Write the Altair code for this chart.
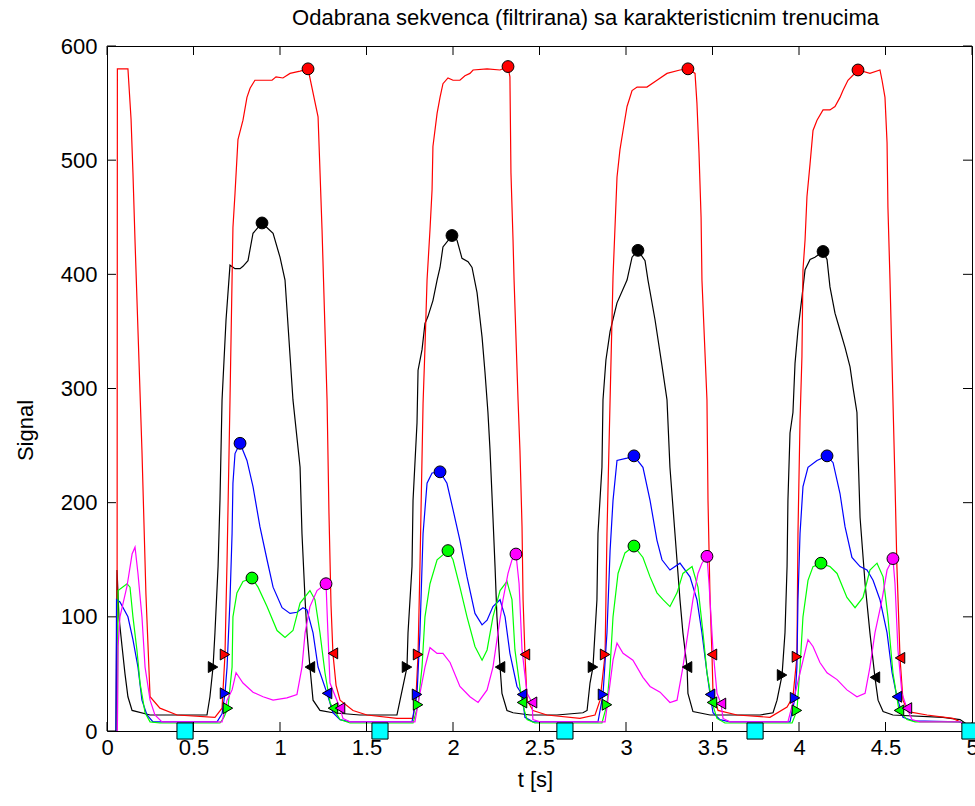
import altair as alt
import pandas as pd

# ---------------- data (t [s], signal) ----------------
red = [(0.058, 0), (0.060, 580), (0.121, 580), (0.139, 536), (0.150, 489), (0.162, 429), (0.202, 246),
       (0.225, 120), (0.249, 30), (0.306, 20), (0.405, 14), (0.624, 12),
       (0.665, 20), (0.682, 67), (0.694, 150), (0.711, 290), (0.728, 441), (0.740, 471), (0.757, 518),
       (0.786, 535), (0.809, 555), (0.827, 563), (0.855, 570), (0.954, 570), (0.977, 573), (1.017, 572),
       (1.058, 576), (1.116, 578), (1.162, 580), (1.220, 538), (1.231, 491), (1.243, 439), (1.272, 290),
       (1.283, 191), (1.295, 110), (1.306, 68), (1.324, 40), (1.347, 27), (1.422, 18), (1.503, 14),
       (1.676, 11), (1.769, 11),
       (1.786, 30), (1.798, 67), (1.809, 144), (1.827, 287), (1.838, 336), (1.850, 395), (1.867, 439),
       (1.879, 474), (1.884, 512), (1.908, 541), (1.925, 555), (1.942, 567), (1.971, 572), (2.000, 570),
       (2.040, 570), (2.069, 574), (2.098, 576), (2.116, 579), (2.197, 580), (2.272, 579), (2.318, 582),
       (2.329, 573), (2.335, 489), (2.347, 430), (2.353, 395), (2.376, 290), (2.387, 246), (2.399, 179),
       (2.405, 115), (2.416, 67), (2.428, 27), (2.462, 18), (2.543, 14), (2.734, 11), (2.821, 14),
       (2.850, 27), (2.879, 67), (2.890, 173), (2.908, 290), (2.925, 398), (2.948, 485), (2.965, 509),
       (2.983, 526), (3.006, 547), (3.035, 561), (3.064, 564), (3.121, 564), (3.179, 570), (3.237, 576),
       (3.312, 579), (3.358, 580), (3.399, 576), (3.410, 550), (3.422, 506), (3.434, 450), (3.439, 395),
       (3.468, 290), (3.474, 202), (3.486, 115), (3.497, 67), (3.503, 33), (3.532, 18), (3.642, 14),
       (3.832, 12), (3.931, 21),
       (3.965, 30), (3.988, 65), (3.994, 173), (4.006, 272), (4.017, 328), (4.023, 404), (4.035, 430),
       (4.046, 468), (4.064, 497), (4.081, 526), (4.104, 535), (4.139, 544), (4.179, 544), (4.208, 547),
       (4.237, 555), (4.254, 561), (4.283, 570), (4.341, 579), (4.410, 576), (4.468, 579), (4.480, 570),
       (4.497, 555), (4.509, 515), (4.514, 459), (4.526, 395), (4.543, 290), (4.555, 217), (4.566, 144),
       (4.584, 64), (4.601, 27), (4.630, 17), (4.740, 14), (4.890, 11), (4.971, 5), (4.994, 2)]

black = [(0.052, 0), (0.058, 141), (0.069, 100), (0.087, 74), (0.104, 50), (0.121, 30), (0.145, 18),
         (0.249, 14), (0.578, 14), (0.595, 30), (0.613, 56), (0.624, 86), (0.642, 144), (0.653, 202),
         (0.665, 290), (0.688, 360), (0.711, 408), (0.740, 405), (0.769, 405), (0.786, 407), (0.815, 412),
         (0.844, 436), (0.896, 445), (0.960, 436), (1.000, 415), (1.029, 395), (1.075, 290), (1.116, 231),
         (1.127, 173), (1.145, 115), (1.156, 86), (1.173, 56), (1.191, 27), (1.231, 18), (1.306, 16),
         (1.462, 14), (1.676, 14),
         (1.694, 27), (1.734, 56), (1.740, 86), (1.763, 144), (1.769, 202), (1.792, 270), (1.798, 316),
         (1.821, 334), (1.838, 357), (1.855, 363), (1.884, 377), (1.908, 395), (1.925, 406), (1.942, 424),
         (1.994, 434), (2.023, 430), (2.052, 414), (2.087, 411), (2.110, 406), (2.139, 384), (2.168, 345),
         (2.185, 314), (2.202, 279), (2.214, 246), (2.231, 187), (2.243, 144), (2.254, 100), (2.272, 56),
         (2.283, 33), (2.312, 18), (2.347, 16), (2.445, 14), (2.601, 14), (2.751, 16),
         (2.775, 18), (2.792, 42), (2.809, 56), (2.832, 115), (2.838, 173), (2.861, 231), (2.867, 290),
         (2.884, 325), (2.908, 350), (2.948, 375), (3.006, 395), (3.035, 415), (3.069, 421), (3.110, 412),
         (3.127, 395), (3.168, 360), (3.208, 320), (3.237, 290), (3.254, 231), (3.283, 173), (3.312, 115),
         (3.329, 86), (3.353, 56), (3.358, 33), (3.387, 17), (3.486, 14), (3.775, 14), (3.850, 16),
         (3.873, 27), (3.902, 49), (3.919, 86), (3.931, 144), (3.936, 202), (3.948, 261), (3.965, 279),
         (3.977, 322), (3.994, 351), (4.017, 380), (4.035, 404), (4.064, 413), (4.092, 415), (4.139, 420),
         (4.162, 413), (4.179, 389), (4.208, 366), (4.237, 351), (4.266, 336), (4.295, 319), (4.312, 301),
         (4.335, 279), (4.341, 246), (4.353, 187), (4.382, 129), (4.410, 86), (4.439, 47), (4.457, 27),
         (4.486, 17), (4.543, 14), (4.832, 12), (4.931, 10), (4.988, 4)]

blue = [(0.052, 0), (0.055, 115), (0.075, 113), (0.121, 100), (0.150, 80), (0.179, 56), (0.202, 27),
        (0.231, 14), (0.266, 8), (0.636, 8), (0.665, 15), (0.682, 33), (0.694, 56), (0.711, 115),
        (0.723, 173), (0.728, 217), (0.740, 243), (0.769, 252), (0.809, 237), (0.844, 214), (0.884, 179),
        (0.925, 150), (0.960, 126), (1.012, 108), (1.058, 103), (1.098, 104), (1.133, 108), (1.156, 106),
        (1.191, 86), (1.220, 56), (1.272, 33), (1.306, 16), (1.347, 10), (1.405, 8), (1.763, 8),
        (1.792, 32), (1.809, 86), (1.827, 173), (1.850, 217), (1.879, 226), (1.925, 227), (1.965, 217),
        (2.000, 194), (2.040, 167), (2.081, 135), (2.127, 103), (2.168, 93), (2.197, 97), (2.231, 109),
        (2.272, 115), (2.301, 100), (2.329, 68), (2.370, 39), (2.399, 32), (2.416, 12), (2.462, 8),
        (2.838, 8),
        (2.867, 32), (2.890, 86), (2.908, 158), (2.925, 202), (2.948, 237), (3.006, 239), (3.046, 241),
        (3.098, 231), (3.139, 202), (3.179, 167), (3.208, 150), (3.254, 141), (3.312, 147), (3.370, 135),
        (3.410, 115), (3.439, 86), (3.468, 51), (3.486, 32), (3.503, 16), (3.543, 10), (3.601, 8),
        (3.948, 8),
        (3.977, 29), (3.988, 56), (3.994, 115), (4.006, 173), (4.023, 214), (4.052, 231), (4.104, 237),
        (4.162, 241), (4.197, 235), (4.237, 208), (4.266, 179), (4.306, 152), (4.353, 144), (4.393, 141),
        (4.428, 132), (4.468, 115), (4.509, 86), (4.538, 51), (4.566, 30), (4.601, 12), (4.659, 9),
        (4.931, 8), (4.988, 3)]

green = [(0.060, 0), (0.064, 123), (0.116, 129), (0.133, 126), (0.150, 100), (0.173, 71), (0.191, 42),
         (0.220, 16), (0.249, 8), (0.306, 7), (0.653, 7), (0.676, 12), (0.699, 20), (0.723, 56),
         (0.728, 100), (0.751, 121), (0.786, 131), (0.838, 134), (0.873, 126), (0.925, 109), (0.983, 88),
         (1.029, 82), (1.075, 88), (1.116, 112), (1.173, 123), (1.202, 115), (1.231, 86), (1.260, 51),
         (1.289, 25), (1.306, 20), (1.347, 10), (1.405, 7), (1.769, 7),
         (1.798, 23), (1.821, 56), (1.838, 100), (1.867, 129), (1.908, 150), (1.971, 158), (2.000, 150),
         (2.040, 126), (2.081, 100), (2.127, 74), (2.168, 62), (2.197, 71), (2.231, 100), (2.272, 123),
         (2.312, 131), (2.341, 115), (2.358, 71), (2.399, 25), (2.428, 10), (2.474, 7), (2.861, 7),
         (2.890, 23), (2.908, 56), (2.925, 100), (2.954, 138), (2.994, 156), (3.046, 162), (3.098, 152),
         (3.139, 135), (3.179, 121), (3.214, 115), (3.254, 109), (3.295, 121), (3.329, 138), (3.382, 144),
         (3.416, 126), (3.445, 86), (3.468, 51), (3.497, 25), (3.526, 11), (3.572, 7), (3.960, 7),
         (3.988, 18), (4.006, 56), (4.023, 100), (4.052, 132), (4.081, 144), (4.127, 147), (4.179, 144),
         (4.220, 138), (4.277, 117), (4.324, 108), (4.370, 117), (4.410, 141), (4.451, 147), (4.486, 135),
         (4.514, 100), (4.543, 51), (4.578, 18), (4.624, 10), (4.671, 8), (4.931, 8), (4.988, 3)]

magenta = [(0.060, 0), (0.064, 74), (0.075, 100), (0.116, 127), (0.145, 155), (0.162, 161), (0.179, 138),
           (0.202, 100), (0.220, 56), (0.249, 27), (0.277, 14), (0.318, 8), (0.665, 8),
           (0.694, 27), (0.723, 36), (0.746, 51), (0.786, 42), (0.844, 34), (0.902, 30), (0.960, 27),
           (1.040, 29), (1.098, 32), (1.127, 56), (1.145, 86), (1.173, 109), (1.214, 123), (1.266, 129),
           (1.277, 86), (1.289, 42), (1.347, 20), (1.364, 11), (1.405, 8), (1.780, 8),
           (1.809, 33), (1.838, 56), (1.867, 73), (1.908, 68), (1.942, 68), (1.983, 60), (2.040, 39),
           (2.098, 30), (2.145, 25), (2.197, 36), (2.231, 56), (2.260, 86), (2.289, 115), (2.318, 138),
           (2.341, 150), (2.364, 155), (2.382, 129), (2.399, 71), (2.428, 33), (2.457, 25), (2.462, 10),
           (2.503, 8), (2.879, 8),
           (2.908, 42), (2.925, 62), (2.948, 77), (2.983, 68), (3.040, 62), (3.098, 47), (3.139, 39),
           (3.197, 34), (3.254, 25), (3.295, 27), (3.329, 56), (3.358, 86), (3.387, 115), (3.416, 138),
           (3.439, 147), (3.468, 153), (3.480, 129), (3.503, 71), (3.526, 33), (3.549, 24), (3.561, 11),
           (3.601, 8), (3.936, 8),
           (3.965, 25), (4.006, 51), (4.052, 80), (4.081, 74), (4.121, 60), (4.162, 51), (4.220, 45),
           (4.277, 36), (4.335, 30), (4.382, 33), (4.410, 56), (4.439, 86), (4.480, 115), (4.509, 141),
           (4.543, 151), (4.555, 129), (4.572, 71), (4.595, 33), (4.624, 20), (4.653, 10), (4.699, 8),
           (4.931, 8), (4.988, 3)]

# characteristic moments
peaks = {
    "black": [(0.896, 445), (1.994, 434), (3.069, 421), (4.139, 420)],
    "red": [(1.162, 580), (2.318, 582), (3.358, 580), (4.341, 579)],
    "blue": [(0.769, 252), (1.925, 227), (3.046, 241), (4.162, 241)],
    "green": [(0.838, 134), (1.971, 158), (3.046, 162), (4.127, 147)],
    "magenta": [(1.266, 129), (2.364, 155), (3.468, 153), (4.543, 151)],
}
onsets = {
    "black": [(0.613, 56), (1.734, 56), (2.809, 56), (3.902, 49)],
    "red": [(0.682, 67), (1.798, 67), (2.879, 67), (3.988, 65)],
    "blue": [(0.682, 33), (1.792, 32), (2.867, 32), (3.977, 29)],
    "green": [(0.699, 20), (1.798, 23), (2.890, 23), (3.988, 18)],
}
offsets = {
    "black": [(1.173, 56), (2.272, 56), (3.353, 56), (4.439, 47)],
    "red": [(1.306, 68), (2.416, 67), (3.497, 67), (4.584, 64)],
    "blue": [(1.272, 33), (2.399, 32), (3.486, 32), (4.566, 30)],
    "green": [(1.306, 20), (2.399, 25), (3.497, 25), (4.578, 18)],
    "magenta": [(1.347, 20), (2.457, 25), (3.549, 24), (4.624, 20)],
}
cycle_marks = [0.451, 1.578, 2.647, 3.746, 4.988]

x_ticks = [0, 0.5, 1, 1.5, 2, 2.5, 3, 3.5, 4, 4.5, 5]
y_ticks = [0, 100, 200, 300, 400, 500, 600]

series_names = ["black", "red", "blue", "green", "magenta"]
series_colors = ["#000000", "#ff0000", "#0000ff", "#00ff00", "#ff00ff"]

# ---------------- tables ----------------
line_rows = []
for name, pts in [("black", black), ("red", red), ("blue", blue), ("green", green), ("magenta", magenta)]:
    for i, (t, v) in enumerate(pts):
        line_rows.append({"s": name, "t": t, "v": v, "o": i})
lines_df = pd.DataFrame(line_rows)


def marks_df(d):
    return pd.DataFrame([{"s": k, "t": t, "v": v} for k, pts in d.items() for (t, v) in pts])


peaks_df = marks_df(peaks)
on_df = marks_df(onsets)
off_df = marks_df(offsets)
cyc_df = pd.DataFrame({"t": cycle_marks, "v": [0] * len(cycle_marks)})
xt_df = pd.DataFrame({"t": x_ticks})
yt_df = pd.DataFrame({"v": y_ticks})

FONT = "Liberation Sans"
W, H = 865, 685

x_axis = alt.Axis(values=x_ticks, format="~g", labelFont=FONT, labelFontSize=22, labelColor="black",
                  ticks=False, tickSize=0, domain=False, grid=False, labelPadding=6,
                  labelFlush=False, labelOverlap=False,
                  title="t [s]", titleFont=FONT, titleFontSize=22, titleFontWeight="normal",
                  titleColor="black", titleX=428, titleY=48, titleBaseline="middle", titleAlign="center")
y_axis = alt.Axis(values=y_ticks, labelFont=FONT, labelFontSize=22, labelColor="black",
                  ticks=False, tickSize=0, domain=False, grid=False, labelPadding=10,
                  labelFlush=False, labelOverlap=False,
                  title="Signal", titleFont=FONT, titleFontSize=22, titleFontWeight="normal",
                  titleColor="black", titleX=-82, titleY=384, titleAngle=270,
                  titleBaseline="middle", titleAlign="center")

xs = alt.Scale(domain=[0, 5], nice=False, zero=False)
ys = alt.Scale(domain=[0, 600], nice=False, zero=False)
X = alt.X("t:Q", scale=xs, axis=x_axis)
Y = alt.Y("v:Q", scale=ys, axis=y_axis)
cscale = alt.Scale(domain=series_names, range=series_colors)

lines = alt.Chart(lines_df).mark_line(strokeWidth=1.2, interpolate="linear").encode(
    x=X, y=Y, color=alt.Color("s:N", scale=cscale, legend=None), order="o:Q")

tick_len = 9
xt_bot = alt.Chart(xt_df).mark_rule(color="black", strokeWidth=1).encode(
    x=X, y=alt.value(H), y2=alt.value(H - tick_len))
xt_top = alt.Chart(xt_df).mark_rule(color="black", strokeWidth=1).encode(
    x=X, y=alt.value(0), y2=alt.value(tick_len))
yt_left = alt.Chart(yt_df).mark_rule(color="black", strokeWidth=1).encode(
    y=Y, x=alt.value(0), x2=alt.value(tick_len))
yt_right = alt.Chart(yt_df).mark_rule(color="black", strokeWidth=1).encode(
    y=Y, x=alt.value(W), x2=alt.value(W - tick_len))


def symbols(df, shape, size):
    return alt.Chart(df).mark_point(shape=shape, filled=True, size=size, opacity=1,
                                    stroke="black", strokeWidth=1).encode(
        x=X, y=Y, fill=alt.Fill("s:N", scale=cscale, legend=None))


on_marks = symbols(on_df, "triangle-right", 120)
off_marks = symbols(off_df, "triangle-left", 120)
peak_marks = symbols(peaks_df, "circle", 140)
cyc_marks = alt.Chart(cyc_df).mark_point(shape="square", filled=True, size=260, opacity=1,
                                         fill="#00ffff", stroke="black", strokeWidth=1).encode(x=X, y=Y)

chart = alt.layer(lines, xt_bot, xt_top, yt_left, yt_right, on_marks, off_marks, peak_marks, cyc_marks).properties(
    width=W, height=H,
    title=alt.TitleParams("Odabrana sekvenca (filtrirana) sa karakteristicnim trenucima",
                          font=FONT, fontSize=22, fontWeight="normal", color="black",
                          anchor="middle", dx=46, offset=5),
    padding={"left": 107, "top": 46, "right": 3, "bottom": 75},
    autosize=alt.AutoSizeParams(type="none"),
    background="white",
).configure_view(stroke="black", strokeWidth=1)

chart.save("out.html", embed_options={"renderer": "svg", "actions": False})
